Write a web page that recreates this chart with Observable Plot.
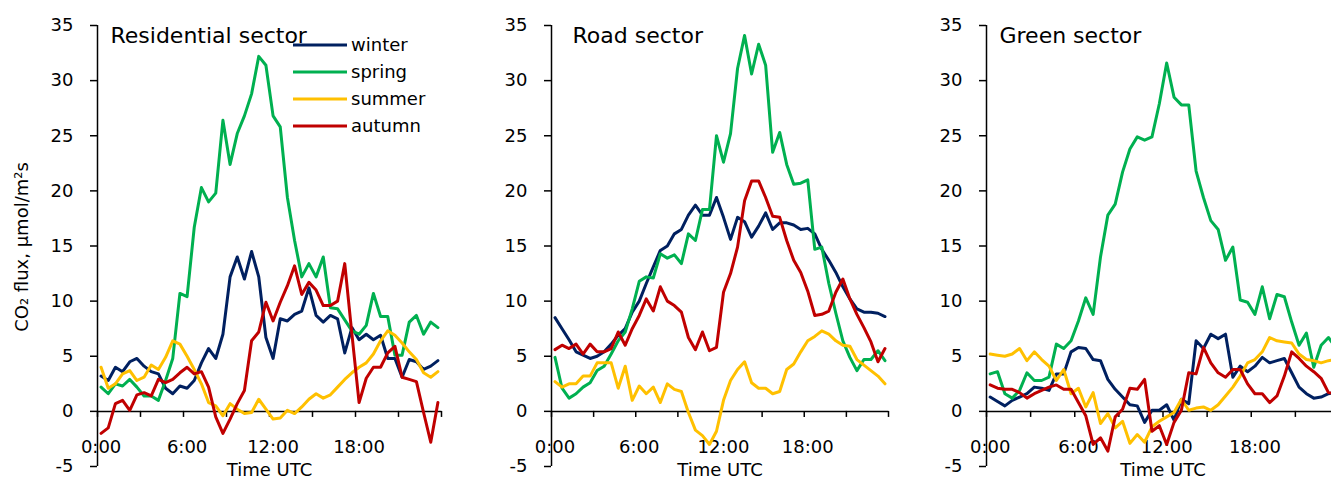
<!DOCTYPE html>
<html><head><meta charset="utf-8">
<script src="https://cdn.jsdelivr.net/npm/d3@7"></script>
<script src="https://cdn.jsdelivr.net/npm/@observablehq/plot@0.6"></script>
<style>
html,body{margin:0;padding:0;background:#fff;}
#wrap{position:relative;width:1331px;height:479px;overflow:hidden;font-family:"DejaVu Sans",Verdana,sans-serif;}
#wrap svg{position:absolute;top:0;}
</style></head><body><div id="wrap"></div>
<script>
// ---------- data ----------
const seasons = ["winter", "spring", "summer", "autumn"];
const seasonColors = ["#002060", "#00B050", "#FFC000", "#C00000"];
const sectors = ["Residential sector", "Road sector", "Green sector"];
const yTicks = [-5, 0, 5, 10, 15, 20, 25, 30, 35];
const xTickHours = [0, 3, 6, 9, 12, 15, 18, 21, 24];
const xLabelHours = [0, 6, 12, 18];
const xLabels = ["0:00", "6:00", "12:00", "18:00"];
const xTitle = "Time UTC";
const yTitle = "CO₂ flux, μmol/m²s";
const halfHourSlots = d3.range(48);

const residentialWinter = [3.2,2.8,4.0,3.6,4.5,4.8,4.1,3.6,3.4,2.1,1.6,2.3,2.1,2.8,4.4,5.7,4.8,7.0,12.2,14.0,12.0,14.5,12.2,6.7,4.8,8.4,8.2,8.8,9.1,11.2,8.7,8.1,8.7,8.4,5.3,7.6,6.5,7.0,6.5,6.9,4.8,4.8,3.1,4.7,4.5,3.8,4.1,4.6];
const residentialSpring = [2.2,1.6,2.5,2.3,2.9,2.2,1.4,1.4,1.0,2.8,4.8,10.7,10.4,16.7,20.3,19.0,19.8,26.4,22.4,25.2,26.8,28.8,32.2,31.4,26.8,25.8,19.4,15.5,12.2,13.4,12.2,14.0,9.4,9.3,8.3,7.3,7.0,7.8,10.7,8.6,8.6,5.1,5.1,8.1,8.7,7.0,8.1,7.6];
const residentialSummer = [4.0,2.1,2.5,3.4,3.7,2.8,3.1,4.2,3.8,4.9,6.4,6.1,5.0,3.8,2.5,0.8,0.5,-0.4,0.7,0.2,-0.2,-0.1,1.1,0.2,-0.7,-0.6,0.1,-0.2,0.4,1.1,1.6,1.2,1.5,2.2,2.9,3.5,4.0,4.4,5.2,6.4,7.3,6.9,6.2,5.4,4.7,3.5,3.1,3.6];
const residentialAutumn = [-2.0,-1.5,0.7,1.0,0.1,1.5,1.7,1.4,2.9,2.6,2.9,3.5,4.0,3.4,3.6,2.2,-0.5,-2.0,-0.7,0.7,1.9,6.4,7.2,9.9,8.2,9.9,11.4,13.2,10.6,11.7,11.0,9.6,9.6,10.0,13.4,7.0,0.8,3.0,4.0,4.0,5.3,5.9,3.1,2.9,2.7,-0.1,-2.8,0.8];

const roadWinter = [8.5,7.5,6.5,5.4,5.1,4.8,5.0,5.4,6.1,6.9,7.5,9.0,10.0,11.6,13.1,14.6,15.0,16.1,16.5,17.8,18.7,17.8,17.8,19.4,17.6,15.6,17.6,17.2,15.8,16.8,18.0,16.5,17.1,17.1,16.9,16.5,16.6,16.1,14.7,13.7,12.6,11.3,10.2,9.3,9.0,9.0,8.9,8.6];
const roadSpring = [4.9,2.1,1.2,1.6,2.2,2.6,3.7,4.1,5.2,6.4,7.2,9.3,11.8,12.2,12.1,14.3,13.9,14.2,13.4,16.1,15.5,18.3,18.3,25.0,22.6,25.2,31.1,34.1,30.6,33.3,31.4,23.5,25.3,22.4,20.6,20.7,21.0,14.7,14.9,11.6,8.9,6.4,4.9,3.7,4.7,4.7,5.5,4.6];
const roadSummer = [2.7,2.2,2.5,2.5,3.2,3.2,4.4,4.4,4.4,2.1,4.1,1.0,2.3,1.6,2.2,0.8,2.5,2.0,1.8,-0.1,-1.7,-2.2,-3.0,-1.8,1.0,2.8,3.8,4.5,2.6,2.1,2.1,1.6,1.8,3.8,4.3,5.4,6.4,6.8,7.3,7.0,6.4,6.0,5.9,4.7,4.2,3.7,3.2,2.5];
const roadAutumn = [5.6,6.0,5.7,6.1,5.2,6.1,5.4,5.4,5.7,7.2,6.0,7.5,8.7,10.2,9.1,11.3,10.0,9.6,9.0,6.7,5.6,7.2,5.5,5.8,10.8,12.5,14.9,19.1,20.9,20.9,19.4,17.7,17.6,15.5,13.7,12.6,10.9,8.7,8.8,9.1,10.8,12.0,10.2,8.8,7.6,6.3,4.5,5.7];

const greenWinter = [1.3,0.9,0.5,1.0,1.3,1.6,2.2,2.1,1.9,3.4,3.4,5.4,5.8,5.7,4.7,4.6,2.9,2.0,1.3,0.6,0.5,-1.0,0.1,0.1,0.6,-0.8,1.1,0.7,6.4,5.7,7.0,6.6,7.0,3.1,4.1,3.6,4.1,4.9,4.4,4.6,4.8,3.5,2.2,1.6,1.2,1.3,1.6,1.7];
const greenSpring = [3.4,3.6,1.6,1.2,1.9,3.5,2.8,2.8,3.1,6.1,5.7,6.4,8.2,10.3,8.8,14.0,17.8,18.8,21.7,23.8,24.9,24.6,24.9,27.9,31.6,28.5,27.8,27.8,21.8,19.4,17.3,16.5,13.7,14.9,10.1,9.9,8.8,11.3,8.4,10.6,10.4,8.1,6.0,7.1,4.0,6.0,6.7,5.8];
const greenSummer = [5.2,5.1,5.0,5.2,5.7,4.6,5.4,4.7,4.1,2.8,3.8,1.6,2.1,0.4,1.7,-1.1,-0.2,-1.5,-0.9,-2.9,-2.1,-2.8,-1.4,-0.9,-0.5,-0.1,1.1,0.1,0.3,0.4,0.1,0.6,1.4,2.2,3.2,4.4,4.7,5.4,6.7,6.4,6.3,6.2,5.2,4.7,4.6,4.4,4.6,4.7];
const greenAutumn = [2.4,2.1,2.0,2.0,1.7,1.2,1.6,1.9,2.2,2.4,2.0,2.0,0.8,-0.4,-3.0,-2.4,-3.6,-0.5,0.2,2.1,2.0,2.9,-1.8,-1.3,-3.0,-1.0,0.1,3.5,3.4,5.8,4.4,3.5,3.1,3.8,3.8,2.5,1.6,1.6,0.8,1.4,3.2,5.4,4.8,4.1,3.6,3.0,1.7,1.6];

const sectorSeries = [
  [residentialWinter, residentialSpring, residentialSummer, residentialAutumn],
  [roadWinter, roadSpring, roadSummer, roadAutumn],
  [greenWinter, greenSpring, greenSummer, greenAutumn]
];

// ---------- layout ----------
const panels = [
  {left: 0,   width: 460, marginLeft: 97, marginRight: 19, titleDx: 13, yLabel: true},
  {left: 460, width: 440, marginLeft: 91, marginRight: 12, titleDx: 21, yLabel: false},
  {left: 900, width: 445, marginLeft: 86, marginRight: 6,  titleDx: 13, yLabel: false}
];
const FONT = "DejaVu Sans";
const FS = 18;
const wrap = document.getElementById("wrap");

panels.forEach((p, k) => {
  const rows = [];
  seasons.forEach((s, j) => {
    sectorSeries[k][j].forEach((v, i) => rows.push({slot: halfHourSlots[i] + 0.5, value: v, season: s}));
  });
  const marks = [
    Plot.axisY({ticks: yTicks, tickSize: 7, tickPadding: 17, strokeWidth: 1.5, tickFormat: d => String(d), label: null, fontSize: FS}),
    Plot.ruleX([0], {y1: -5, y2: 35, strokeWidth: 1.5}),
    Plot.ruleY([0], {strokeWidth: 1.5}),
    Plot.ruleX(xTickHours, {x: h => h * 2, y1: 0, y2: -0.55, strokeWidth: 1.5}),
    Plot.text(xLabelHours, {x: h => h * 2 + 0.5, y: 0, dy: 36, text: (d, i) => xLabels[i], fontSize: FS}),
    Plot.line(rows, {x: "slot", y: "value", z: "season", stroke: "season", strokeWidth: 3, strokeLinejoin: "round"}),
    Plot.text([sectors[k]], {frameAnchor: "top-left", textAnchor: "start", dx: p.titleDx, dy: 1.5, fontSize: 22}),
    Plot.text([xTitle], {frameAnchor: "bottom", dy: 9, fontSize: FS})
  ];
  if (p.yLabel) marks.push(Plot.text([yTitle], {frameAnchor: "left", textAnchor: "middle", rotate: -90, dx: -75, dy: 1, fontSize: FS}));
  const chart = Plot.plot({
    width: p.width, height: 479,
    marginLeft: p.marginLeft, marginRight: p.marginRight, marginTop: 25, marginBottom: 13,
    x: {domain: [0, 48], axis: null},
    y: {domain: [-5, 35], axis: null},
    color: {domain: seasons, range: seasonColors},
    style: {fontFamily: FONT, background: "transparent", overflow: "visible", color: "#000"},
    marks
  });
  chart.style.left = p.left + "px";
  wrap.appendChild(chart);
});

// ---------- legend ----------
const leg = d3.select(wrap).append("svg")
  .attr("width", 140).attr("height", 120)
  .style("left", "290px").style("top", "30px").style("overflow", "visible");
seasons.forEach((s, j) => {
  const g = leg.append("g").attr("transform", `translate(0,${15 + j * 27})`);
  g.append("line").attr("x1", 3).attr("x2", 57).attr("y1", 0).attr("y2", 0)
    .attr("stroke", seasonColors[j]).attr("stroke-width", 3);
  g.append("text").attr("x", 61).attr("y", 0).attr("dy", "0.35em")
    .attr("font-family", FONT).attr("font-size", FS).attr("fill", "#000").text(s);
});
</script>
</body></html>
